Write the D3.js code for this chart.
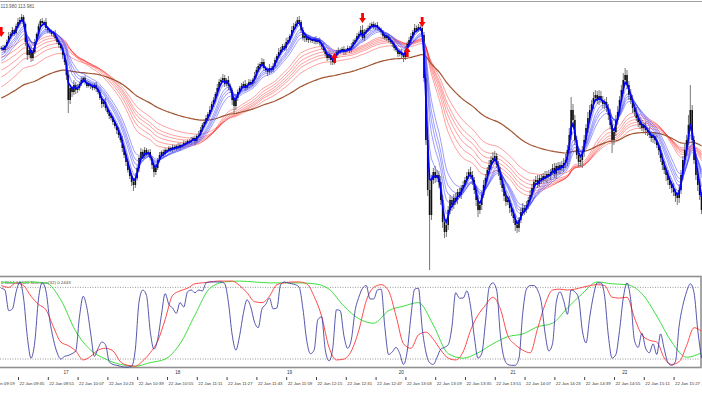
<!DOCTYPE html>
<html lang="en">
<head>
<meta charset="UTF-8">
<title>USDJPY M1</title>
<script src="https://cdnjs.cloudflare.com/ajax/libs/d3/7.8.5/d3.min.js"></script>
<style>
  * { margin: 0; padding: 0; }
  body { background: #fff; }
  svg { display: block; font-family: "Liberation Sans", Arial, sans-serif; }
</style>
</head>
<body>
<svg id="chart" width="702" height="395"></svg>
<script>
// ---- data (M1 bars, first bar 09:26) ----
const firstBar = "09:26";
const closes = [
  114.304,114.300,114.308,114.316,114.328,114.332,114.340,114.334,114.348,114.356,
  114.360,114.366,114.352,114.316,114.290,114.300,114.284,114.296,114.316,114.332,
  114.348,114.358,114.354,114.356,114.344,114.340,114.336,114.332,114.334,114.324,
  114.316,114.310,114.304,114.290,114.276,114.250,114.200,114.224,114.216,114.230,
  114.220,114.224,114.232,114.240,114.244,114.236,114.228,114.232,114.228,114.224,
  114.230,114.222,114.216,114.204,114.192,114.196,114.184,114.176,114.168,114.164,
  114.156,114.148,114.140,114.130,114.120,114.104,114.090,114.076,114.060,114.048,
  114.036,114.030,114.044,114.064,114.084,114.096,114.088,114.100,114.092,114.096,
  114.084,114.070,114.056,114.064,114.080,114.090,114.096,114.092,114.100,114.098,
  114.104,114.100,114.106,114.102,114.108,114.104,114.110,114.108,114.114,114.112,
  114.118,114.116,114.120,114.124,114.118,114.128,114.130,114.140,114.150,114.156,
  114.164,114.172,114.180,114.192,114.200,114.212,114.224,114.236,114.240,114.244,
  114.232,114.240,114.228,114.220,114.200,114.188,114.204,114.216,114.224,114.228,
  114.232,114.224,114.230,114.236,114.232,114.240,114.248,114.260,114.268,114.272,
  114.276,114.264,114.260,114.256,114.264,114.260,114.268,114.280,114.288,114.296,
  114.300,114.308,114.304,114.316,114.320,114.328,114.340,114.348,114.352,114.360,
  114.356,114.340,114.324,114.328,114.320,114.324,114.320,114.318,114.322,114.316,
  114.320,114.314,114.308,114.300,114.292,114.284,114.290,114.280,114.276,114.288,
  114.296,114.300,114.298,114.302,114.296,114.300,114.304,114.300,114.308,114.316,
  114.320,114.328,114.332,114.340,114.324,114.336,114.340,114.344,114.348,114.352,
  114.346,114.350,114.344,114.340,114.336,114.328,114.324,114.328,114.320,114.316,
  114.312,114.304,114.300,114.292,114.296,114.290,114.286,114.300,114.312,114.320,
  114.328,114.336,114.344,114.340,114.346,114.344,114.330,114.244,114.120,114.020,
  113.970,114.040,114.056,114.044,114.050,114.036,114.000,113.956,113.936,113.950,
  113.980,114.000,113.990,114.004,114.000,114.016,114.010,114.024,114.030,114.040,
  114.048,114.056,114.050,114.040,114.020,114.000,113.980,113.990,114.010,114.030,
  114.044,114.060,114.070,114.080,114.084,114.088,114.070,114.056,114.040,114.024,
  114.008,113.996,114.000,113.984,113.976,113.964,113.950,113.944,113.960,113.976,
  113.984,113.980,113.990,114.000,114.010,114.024,114.036,114.040,114.032,114.044,
  114.040,114.048,114.044,114.052,114.048,114.056,114.064,114.052,114.068,114.060,
  114.070,114.064,114.074,114.080,114.100,114.130,114.180,114.160,114.120,114.090,
  114.076,114.080,114.096,114.120,114.144,114.164,114.180,114.192,114.204,114.210,
  114.200,114.208,114.200,114.192,114.196,114.184,114.170,114.150,114.120,114.136,
  114.160,114.176,114.200,114.220,114.240,114.250,114.230,114.210,114.200,114.184,
  114.176,114.164,114.156,114.150,114.144,114.148,114.140,114.136,114.130,114.124,
  114.128,114.120,114.110,114.100,114.084,114.070,114.060,114.050,114.040,114.030,
  114.024,114.016,114.008,114.004,114.020,114.050,114.080,114.100,114.120,114.150,
  114.180,114.120,114.080,114.050,114.030,114.010,113.980
];
// upper / lower shadows in points (0.001)
const wickUpPts = [
  4,6,3,5,8,4,6,3,5,8, 6,6,4,3,5,2,8,4,6,3, 5,4,6,3,8,4,3,5,4,6, 3,5,4,6,3,4,8,6,4,10,
  6,8,4,6,3,5,4,6,3,5, 4,6,3,5,4,6,8,3,4,5, 4,3,5,6,4,8,5,3,6,4, 5,8,10,6,4,8,5,6,4,5,
  6,4,5,8,4,6,3,5,4,3, 4,3,5,4,3,6,4,3,5,4, 3,4,6,3,5,4,8,6,4,5, 6,4,8,5,6,4,8,6,5,8,
  6,4,8,5,4,6,8,5,4,6, 5,8,4,6,5,4,8,6,5,4, 8,6,4,5,8,4,6,5,4,8, 6,4,5,8,6,4,8,6,5,6,
  8,4,6,5,4,6,3,5,4,6, 4,5,3,6,4,5,8,4,6,5, 4,5,3,4,6,3,5,4,6,5, 4,6,5,8,10,6,4,5,6,4,
  5,4,6,3,5,4,6,5,4,6, 4,5,6,4,5,6,4,8,5,6, 6,4,8,5,6,4,10,6,8,10, 20,10,8,12,10,8,12,10,8,10,
  8,10,6,8,10,6,8,6,8,6, 8,6,10,8,6,8,10,6,8,10, 8,6,10,8,12,10,6,8,10,6, 8,10,6,8,10,6,8,10,6,8,
  10,6,8,6,10,8,6,8,10,6, 8,6,10,6,8,6,8,10,6,8, 6,8,10,12,10,14,26,12,10,8, 10,8,12,10,8,12,10,8,12,10,
  8,12,10,8,6,10,8,12,10,8, 10,12,8,10,14,14,10,8,12,10, 8,10,6,8,10,6,8,6,10,8, 6,8,10,6,8,10,8,6,10,8,
  8,10,6,8,12,10,8,12,10,20, 50,10,8,12,10,8,6
];
const wickDnPts = [
  5,3,6,4,3,5,4,6,3,4, 4,3,6,8,10,5,8,6,4,5, 4,6,3,5,4,6,3,4,6,5, 4,6,5,8,6,10,26,8,10,6,
  8,6,5,4,6,5,4,3,6,5, 4,6,5,4,8,6,5,4,6,5, 6,5,8,6,5,8,6,8,5,6, 8,12,6,5,8,4,6,5,4,6,
  5,8,10,6,4,5,4,6,3,4, 3,4,5,3,4,3,5,4,3,4, 3,4,5,3,8,4,5,3,4,5, 4,6,5,4,6,5,4,6,5,4,
  6,5,8,6,10,14,8,6,5,6, 5,6,4,6,5,4,6,5,4,6, 5,6,4,8,5,6,4,5,6,4, 5,4,6,5,4,6,5,4,6,5,
  4,6,5,8,4,6,5,4,6,5, 4,5,6,4,5,6,4,10,6,5, 4,6,5,4,6,5,4,6,5,4, 5,4,6,5,4,6,5,4,6,5,
  4,6,5,4,6,5,4,6,5,4, 6,5,4,6,5,8,10,6,5,4, 5,4,6,5,4,6,5,8,10,12, 110,10,8,10,8,12,10,12,12,10,
  10,8,12,8,10,8,6,8,10,6, 8,6,8,10,8,12,14,8,10,6, 8,6,8,10,6,8,6,8,10,8, 10,8,6,10,8,10,12,10,8,6,
  8,10,6,8,6,8,10,6,8,6, 8,6,8,10,6,8,6,8,10,6, 8,6,8,10,12,8,10,12,10,8, 10,8,16,10,8,10,8,6,10,8,
  8,10,6,8,10,8,10,8,26,10, 8,10,8,6,8,10,8,10,8,10, 8,6,10,8,6,8,10,8,6,8, 10,8,6,10,8,10,8,12,10,8,
  10,8,12,14,10,8,10,8,12,10, 12,10,8,10,12,10,8
];

// moving averages (EMA on close), values at the first bar
const fastPeriods = [3, 5, 8, 10, 12, 15];
const fastStart   = [114.304, 114.300, 114.294, 114.290, 114.284, 114.278];
const slowPeriods = [30, 35, 40, 45, 50, 60];
const slowStart   = [114.300, 114.286, 114.274, 114.260, 114.246, 114.226];
const trendPeriod = 110;
const trendStart  = 114.204;

// signal arrows: bar index, direction, price of the tip
const arrows = [
  { bar: 0,   dir: "down", price: 114.326 },
  { bar: 179, dir: "up",   price: 114.294 },
  { bar: 194, dir: "down", price: 114.354 },
  { bar: 218, dir: "up",   price: 114.306 },
  { bar: 226, dir: "down", price: 114.346 }
];

// lower window oscillator (blue every 2 bars, red every 4, green every 8)
const blueStep = 2, redStep = 4, greenStep = 8;
const oscBlue = [
  0.89,0.87,0.64,0.66,0.85,0.96,0.78,0.35,0.11,0.29, 0.77,0.95,0.86,0.54,0.32,0.17,0.10,0.13,0.14,0.16,
  0.19,0.57,0.80,0.67,0.39,0.13,0.22,0.29,0.26,0.07, 0.04,0.03,0.02,0.01,0.01,0.02,0.21,0.74,0.87,0.81,
  0.41,0.21,0.32,0.59,0.83,0.71,0.67,0.61,0.73,0.68, 0.85,0.87,0.84,0.87,0.86,0.95,0.96,0.96,0.96,0.96,
  0.94,0.73,0.37,0.20,0.36,0.61,0.76,0.68,0.51,0.45, 0.66,0.71,0.78,0.66,0.67,0.93,0.96,0.95,0.94,0.93,
  0.90,0.66,0.31,0.16,0.20,0.54,0.57,0.20,0.08,0.22, 0.65,0.64,0.36,0.22,0.32,0.64,0.79,0.89,0.92,0.77,
  0.77,0.87,0.88,0.45,0.15,0.18,0.23,0.16,0.04,0.19, 0.58,0.88,0.89,0.45,0.18,0.06,0.04,0.12,0.21,0.23,
  0.26,0.46,0.84,0.78,0.78,0.86,0.69,0.35,0.11,0.16, 0.51,0.90,0.95,0.87,0.37,0.11,0.04,0.03,0.03,0.11,
  0.61,0.88,0.92,0.92,0.87,0.73,0.39,0.19,0.27,0.73, 0.85,0.75,0.60,0.87,0.85,0.78,0.42,0.28,0.57,0.81,
  0.95,0.95,0.80,0.36,0.11,0.15,0.42,0.78,0.95,0.76, 0.31,0.23,0.39,0.22,0.17,0.27,0.15,0.38,0.21,0.06,
  0.03,0.07,0.47,0.70,0.85,0.94,0.84,0.42,0.11
];
const oscRed = [
  0.92,0.90,0.95,0.92,0.80,0.71,0.65,0.46,0.29,0.25, 0.19,0.09,0.13,0.20,0.22,0.19,0.07,0.03,0.02,0.08,
  0.17,0.30,0.54,0.81,0.86,0.89,0.94,0.95,0.96,0.97, 0.97,0.97,0.92,0.84,0.74,0.73,0.80,0.93,0.95,0.96,
  0.96,0.94,0.80,0.58,0.23,0.09,0.10,0.19,0.42,0.75, 0.90,0.93,0.86,0.58,0.27,0.22,0.37,0.40,0.32,0.20,
  0.11,0.09,0.18,0.42,0.59,0.70,0.79,0.66,0.36,0.26, 0.20,0.17,0.44,0.71,0.87,0.88,0.87,0.88,0.90,0.92,
  0.93,0.92,0.79,0.78,0.79,0.56,0.37,0.31,0.29,0.11, 0.04,0.07,0.25,0.45,0.41
];
const oscGreen = [
  0.96,0.95,0.96,0.95,0.76,0.41,0.20,0.10,0.04,0.02, 0.06,0.10,0.27,0.59,0.89,0.96,0.97,0.96,0.95,0.95,
  0.95,0.94,0.88,0.69,0.55,0.50,0.64,0.69,0.73,0.48, 0.16,0.11,0.17,0.27,0.35,0.38,0.46,0.50,0.67,0.83,
  0.96,0.94,0.93,0.83,0.58,0.29,0.12,0.17
];
const oscLevels = [0.1, 0.9];
const oscLabel = "0.8664  0.5520 Sherman(32) 0.2443";

// axis labels
const timeTicks = ["09:19","09:35","09:51","10:07","10:23","10:39","10:55","11:11","11:27","11:43",
  "11:59","12:15","12:31","12:47","13:03","13:19","13:35","13:51","14:07","14:23","14:39","14:55","15:11","15:27"];
const hourTimes  = ["10:00","11:00","12:00","13:00","14:00","15:00"];
const hourLabels = ["17","18","19","20","21","22"];
const headerText = "113.980 113.981";

// ---- helpers ----
const toMin = s => { const [h, m] = s.split(":").map(Number); return h * 60 + m; };
const barOf = s => toMin(s) - toMin(firstBar);

function ema(values, period, start) {
  const a = 2 / (period + 1);
  let e = start;
  return values.map((v, i) => (i === 0 ? start : (e = a * v + (1 - a) * e)));
}

const W = 702;
const svg = d3.select("#chart");

const x = d3.scaleLinear().domain([0, closes.length - 1]).range([1.24, 701.5]);
const yP = d3.scaleLinear().domain([113.864, 114.4]).range([268, 0]);
const yO = d3.scaleLinear().domain([0, 1]).range([368, 278.4]);

svg.append("defs").append("clipPath").attr("id", "mainClip")
  .append("rect").attr("x", 0).attr("y", 2).attr("width", W).attr("height", 272);

// ---- main window ----
const main = svg.append("g").attr("clip-path", "url(#mainClip)");
const priceLine = d3.line().x((d, i) => x(i)).y(d => yP(d));

slowPeriods.forEach((p, k) => {
  main.append("path").datum(ema(closes, p, slowStart[k]))
    .attr("d", priceLine).attr("fill", "none")
    .attr("stroke", "#ff2020").attr("stroke-opacity", 0.55).attr("stroke-width", 0.8);
});

main.append("path").datum(ema(closes, trendPeriod, trendStart))
  .attr("d", priceLine).attr("fill", "none")
  .attr("stroke", "#a0522d").attr("stroke-width", 1.2);

const bars = closes.map((c, i) => {
  const o = i ? closes[i - 1] : c;
  return { i, o, c, h: Math.max(o, c) + wickUpPts[i] / 1000, l: Math.min(o, c) - wickDnPts[i] / 1000 };
});

main.append("g").selectAll("line").data(bars).join("line")
  .attr("x1", d => x(d.i)).attr("x2", d => x(d.i))
  .attr("y1", d => yP(d.h)).attr("y2", d => yP(d.l))
  .attr("stroke", "#666").attr("stroke-width", 0.9);

main.append("g").selectAll("rect").data(bars).join("rect")
  .attr("x", d => x(d.i) - 0.8).attr("width", 1.6)
  .attr("y", d => yP(Math.max(d.o, d.c)))
  .attr("height", d => Math.max(0.8, yP(Math.min(d.o, d.c)) - yP(Math.max(d.o, d.c))))
  .attr("fill", "#111");

fastPeriods.forEach((p, k) => {
  if (k === 0) return;
  main.append("path").datum(ema(closes, p, fastStart[k]))
    .attr("d", priceLine).attr("fill", "none")
    .attr("stroke", "#4040ff").attr("stroke-opacity", 0.65).attr("stroke-width", 0.8);
});
main.append("path").datum(ema(closes, fastPeriods[0], fastStart[0]))
  .attr("d", priceLine).attr("fill", "none")
  .attr("stroke", "#0000ff").attr("stroke-width", 1.7);

const downArrow = "M-1.4,-10L1.4,-10L1.4,-5L3.4,-5L0,0L-3.4,-5L-1.4,-5Z";
const upArrow = "M-1.4,10L1.4,10L1.4,5L3.4,5L0,0L-3.4,5L-1.4,5Z";
main.append("g").selectAll("path").data(arrows).join("path")
  .attr("transform", d => `translate(${x(d.bar)},${yP(d.price)})`)
  .attr("d", d => (d.dir === "down" ? downArrow : upArrow))
  .attr("fill", "#ff0000");

// frames
svg.append("line").attr("x1", 0).attr("x2", W).attr("y1", 1.5).attr("y2", 1.5)
  .attr("stroke", "#a0a0a0").attr("stroke-width", 1);
svg.append("text").attr("x", 0.5).attr("y", 7.5).text(headerText)
  .attr("font-size", 4.6).attr("fill", "#555");

// ---- lower window ----
const sub = svg.append("g");
sub.append("rect").attr("x", -1).attr("y", 276.5).attr("width", 702).attr("height", 91)
  .attr("fill", "#fff").attr("stroke", "#909090").attr("stroke-width", 1.6);

sub.selectAll(".lvl").data(oscLevels).join("line").attr("class", "lvl")
  .attr("x1", 0).attr("x2", 700).attr("y1", d => yO(d)).attr("y2", d => yO(d))
  .attr("stroke", "#808080").attr("stroke-width", 0.8).attr("stroke-dasharray", "1,1.5");

sub.append("text").attr("x", 1).attr("y", 284).text(oscLabel)
  .attr("font-size", 4.4).attr("fill", "#444");

const oscLine = step => d3.line().curve(d3.curveMonotoneX).x((d, i) => x(i * step)).y(d => yO(d));
sub.append("path").datum(oscGreen).attr("d", oscLine(greenStep)).attr("fill", "none")
  .attr("stroke", "#3ee03e").attr("stroke-width", 1);
sub.append("path").datum(oscRed).attr("d", oscLine(redStep)).attr("fill", "none")
  .attr("stroke", "#ff4a4a").attr("stroke-width", 1);
sub.append("path").datum(oscBlue).attr("d", oscLine(blueStep)).attr("fill", "none")
  .attr("stroke", "#3838a0").attr("stroke-opacity", 0.85).attr("stroke-width", 1);

// ---- time axis ----
svg.append("g").selectAll("text").data(hourTimes).join("text")
  .attr("x", d => x(barOf(d)) - 1).attr("y", 373.5)
  .text((d, i) => hourLabels[i]).attr("font-size", 4.6).attr("fill", "#333");

const axis = d3.axisBottom(x)
  .tickValues(timeTicks.map(barOf))
  .tickFormat((d, i) => "22 Jan " + timeTicks[i])
  .tickSize(3).tickPadding(1);
const ax = svg.append("g").attr("transform", "translate(0,377)").call(axis);
ax.select(".domain").remove();
ax.selectAll(".tick line").attr("stroke", "#444");
ax.selectAll(".tick text").attr("text-anchor", "start").attr("x", 1).attr("dy", "0.9em")
  .attr("font-size", 4.3).attr("font-family", "Liberation Sans, Arial, sans-serif").attr("fill", "#333");
</script>
</body>
</html>
